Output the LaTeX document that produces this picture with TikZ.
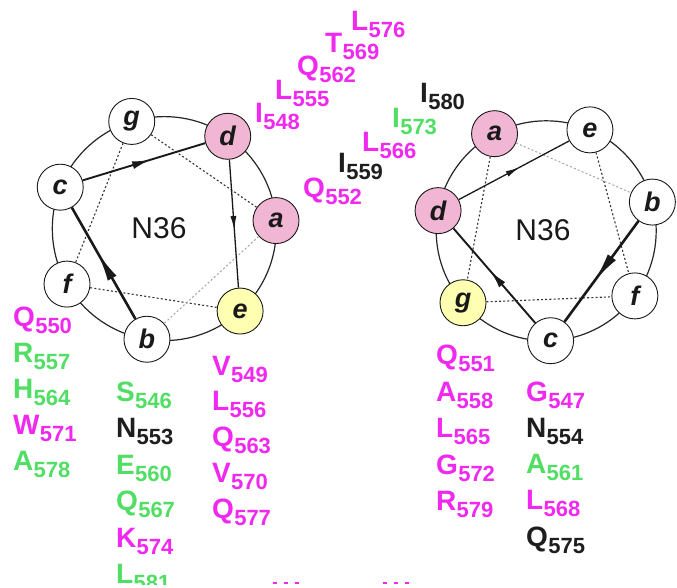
\documentclass[tikz,border=0pt]{standalone}
\usepackage{fontspec}
\setmainfont{Liberation Sans}
\usetikzlibrary{arrows.meta,decorations.markings,calc}
\definecolor{mag}{RGB}{240,40,240}
\definecolor{grn}{RGB}{80,222,100}
\definecolor{blk}{RGB}{30,30,30}
\definecolor{pinkfill}{RGB}{240,182,212}
\definecolor{yelfill}{RGB}{255,255,178}
\newcommand{\rsd}[2]{{\fontsize{28}{28}\selectfont\bfseries #1}\kern0.5pt\raisebox{-7pt}{\fontsize{22}{22}\selectfont\bfseries #2}}
\begin{document}
\begin{tikzpicture}[x=1pt,y=-1pt,
  wheel/.style={draw=black!85, line width=1.2pt},
  resn/.style={circle, draw=black!90, line width=0.9pt, minimum size=46pt, inner sep=0pt, fill=white, text=black!90, font=\fontsize{27}{27}\selectfont\bfseries\itshape},
  pinkres/.style={resn, fill=pinkfill},
  yelres/.style={resn, fill=yelfill},
  dots/.style={line width=1.1pt, dash pattern=on 2pt off 2.2pt, draw=black!80},
  faintdots/.style={line width=1pt, dash pattern=on 2pt off 2.2pt, draw=black!35},
  arrthick/.style={line width=2.6pt, draw=black!90, postaction={decorate},
    decoration={markings, mark=at position 0.6 with {\arrow[black!90]{Latex[length=30pt,width=10pt]}}}},
  arrmid/.style={line width=1.9pt, draw=black!90, postaction={decorate},
    decoration={markings, mark=at position 0.55 with {\arrow[black!90]{Latex[length=18pt,width=8pt]}}}},
  arrthin/.style={line width=1.3pt, draw=black!90, postaction={decorate},
    decoration={markings, mark=at position 0.55 with {\arrow[black!90]{Latex[length=14pt,width=6pt]}}}},
  lab/.style={inner sep=0pt, outer sep=0pt, anchor=base west},
  ctr/.style={font=\fontsize{30}{30}\selectfont, text=black!90}
]
\fill[white] (0,0) rectangle (677,588);
\useasboundingbox (0,0) rectangle (677,588);

% ---------- left wheel ----------
\coordinate (CL) at (164.3,228.6);
\draw[wheel] (CL) circle[radius=112pt];
\node[pinkres] (La) at ($(CL)+({112*cos(4.1)},{-112*sin(4.1)})$) {a};
\node[pinkres] (Ld) at ($(CL)+({112*cos(55.5)},{-112*sin(55.5)})$) {d};
\node[resn]    (Lg) at ($(CL)+({112*cos(106.9)},{-112*sin(106.9)})$) {g};
\node[resn]    (Lc) at ($(CL)+({112*cos(158.3)},{-112*sin(158.3)})$) {c};
\node[resn]    (Lf) at ($(CL)+({112*cos(209.7)},{-112*sin(209.7)})$) {f};
\node[resn]    (Lb) at ($(CL)+({112*cos(261.1)},{-112*sin(261.1)})$) {b};
\node[yelres]  (Le) at ($(CL)+({112*cos(312.6)},{-112*sin(312.6)})$) {e};
\node[ctr] (NL) at (159,228) {N36};

\draw[dots] (Lg) -- (La);
\draw[dots] (Lg) -- (Lf);
\draw[dots] (Lf) -- (Le);
\draw[faintdots] (La) -- (Lb);
\draw[arrthick] (Lb) -- (Lc);
\draw[arrmid] (Lc) -- (Ld);
\draw[arrthin] (Ld) -- (Le);

% ---------- right wheel ----------
\coordinate (CR) at (546.2,230.8);
\draw[wheel] (CR) circle[radius=110pt];
\node[pinkres] (Ra) at ($(CR)+({110*cos(118)},{-110*sin(118)})$) {a};
\node[resn]    (Re) at ($(CR)+({110*cos(66.57)},{-110*sin(66.57)})$) {e};
\node[resn]    (Rb) at ($(CR)+({110*cos(15.14)},{-110*sin(15.14)})$) {b};
\node[resn]    (Rf) at ($(CR)+({110*cos(-36.29)},{-110*sin(-36.29)})$) {f};
\node[resn]    (Rc) at ($(CR)+({110*cos(-87.71)},{-110*sin(-87.71)})$) {c};
\node[yelres]  (Rg) at ($(CR)+({110*cos(-139.14)},{-110*sin(-139.14)})$) {g};
\node[pinkres] (Rd) at ($(CR)+({110*cos(-190.57)},{-110*sin(-190.57)})$) {d};
\node[ctr] (NR) at (543,230) {N36};

\draw[dots] (Ra) -- (Rg);
\draw[dots] (Re) -- (Rf);
\draw[dots] (Rg) -- (Rf);
\draw[faintdots] (Ra) -- (Rb);
\draw[arrthick] (Rb) -- (Rc);
\draw[arrmid] (Rc) -- (Rd);
\draw[arrthin] (Rd) -- (Re);

% ---------- top diagonal labels ----------
\node[lab, text=mag] (t576) at (351,31) {\rsd{L}{576}};
\node[lab, text=mag] (t569) at (325,53) {\rsd{T}{569}};
\node[lab, text=mag] (t562) at (297,76) {\rsd{Q}{562}};
\node[lab, text=mag] (t555) at (275,100) {\rsd{L}{555}};
\node[lab, text=mag] (t548) at (255,123) {\rsd{I}{548}};
\node[lab, text=blk] (t580) at (420,103) {\rsd{I}{580}};
\node[lab, text=grn] (t573) at (392,128) {\rsd{I}{573}};
\node[lab, text=mag] (t566) at (362,152) {\rsd{L}{566}};
\node[lab, text=blk] (t559) at (338,173) {\rsd{I}{559}};
\node[lab, text=mag] (t552) at (303,197) {\rsd{Q}{552}};

% ---------- left columns ----------
\node[lab, text=mag] (t550) at (13,326) {\rsd{Q}{550}};
\node[lab, text=grn] (t557) at (13,362) {\rsd{R}{557}};
\node[lab, text=grn] (t564) at (13,398) {\rsd{H}{564}};
\node[lab, text=mag] (t571) at (13,434) {\rsd{W}{571}};
\node[lab, text=grn] (t578) at (13,470) {\rsd{A}{578}};

\begin{scope}
\clip (0,0) rectangle (677,584);
\node[lab, text=grn] (t546) at (116,401) {\rsd{S}{546}};
\node[lab, text=blk] (t553) at (116,437) {\rsd{N}{553}};
\node[lab, text=grn] (t560) at (116,474) {\rsd{E}{560}};
\node[lab, text=grn] (t567) at (116,510) {\rsd{Q}{567}};
\node[lab, text=mag] (t574) at (116,547) {\rsd{K}{574}};
\node[lab, text=grn] (t581) at (116,583) {\rsd{L}{581}};
\end{scope}

\node[lab, text=mag] (t549) at (212,375) {\rsd{V}{549}};
\node[lab, text=mag] (t556) at (212,410) {\rsd{L}{556}};
\node[lab, text=mag] (t563) at (212,446) {\rsd{Q}{563}};
\node[lab, text=mag] (t570) at (212,482) {\rsd{V}{570}};
\node[lab, text=mag] (t577) at (212,518) {\rsd{Q}{577}};

% ---------- right columns ----------
\node[lab, text=mag] (t551) at (436,364) {\rsd{Q}{551}};
\node[lab, text=mag] (t558) at (436,401) {\rsd{A}{558}};
\node[lab, text=mag] (t565) at (436,437) {\rsd{L}{565}};
\node[lab, text=mag] (t572) at (436,474) {\rsd{G}{572}};
\node[lab, text=mag] (t579) at (436,510) {\rsd{R}{579}};

\node[lab, text=mag] (t547) at (526,401) {\rsd{G}{547}};
\node[lab, text=blk] (t554) at (526,437) {\rsd{N}{554}};
\node[lab, text=grn] (t561) at (526,473) {\rsd{A}{561}};
\node[lab, text=mag] (t568) at (526,509) {\rsd{L}{568}};
\node[lab, text=blk] (t575) at (526,546) {\rsd{Q}{575}};

% ---------- cut-off marks at the bottom ----------
\coordinate (m1s) at (273,582.5); \coordinate (m1e) at (302,582.5);
\coordinate (m2s) at (383,582.5); \coordinate (m2e) at (413,582.5);
\draw[mag, line width=2pt, dash pattern=on 4pt off 7pt] (m1s) -- (m1e);
\draw[mag, line width=2pt, dash pattern=on 4pt off 7pt] (m2s) -- (m2e);
\end{tikzpicture}
\end{document}
